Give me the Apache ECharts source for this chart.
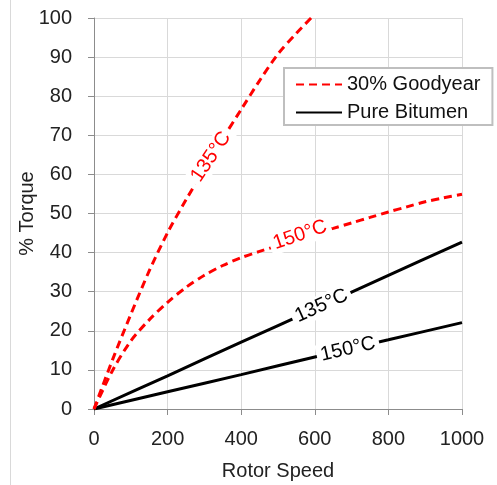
<!DOCTYPE html>
<html>
<head>
<meta charset="utf-8">
<script src="https://cdn.jsdelivr.net/npm/echarts@6/dist/echarts.min.js"></script>
<style>html,body{margin:0;padding:0;background:#fff}#c{width:497px;height:485px}</style>
</head>
<body>
<div id="c"></div>
<script>
var xTicks = [0, 200, 400, 600, 800, 1000];
var yTicks = [0, 10, 20, 30, 40, 50, 60, 70, 80, 90, 100];

var goodyear135X = [0, 50, 100, 150, 200, 250, 300, 350, 400, 450, 500, 550, 590];
var goodyear135Y = [0, 12.5, 24.2, 35.3, 45.1, 53.5, 61.4, 69.2, 76.6, 84.0, 90.8, 96.1, 100];

var goodyear150X = [0, 50, 100, 150, 200, 250, 300, 350, 400, 450, 500, 550, 600, 650, 700, 750, 800, 850, 900, 950, 1000];
var goodyear150Y = [0, 9.8, 17.4, 22.8, 27.3, 31.1, 34.2, 36.7, 38.7, 40.3, 41.8, 43.3, 44.8, 46.2, 47.6, 49.0, 50.4, 51.7, 53.0, 54.0, 54.9];

var bitumen135X = [0, 200, 400, 600, 800, 1000];
var bitumen135Y = [0, 8.5, 17.1, 25.6, 34.2, 42.7];

var bitumen150X = [0, 200, 400, 600, 800, 1000];
var bitumen150Y = [0, 4.4, 8.8, 13.3, 17.7, 22.1];

var legendNames = ['30% Goodyear', 'Pure Bitumen'];
var curveLabels = ['135°C', '150°C'];

function pairs(xs, ys) { return xs.map(function (x, i) { return [x, ys[i]]; }); }

var FONT = '"Liberation Sans", Arial, sans-serif';
var FS = 20;
var labelStyle = function (color, rot) {
  return {
    show: true, position: 'inside', formatter: '{b}', color: color,
    fontFamily: FONT, fontSize: FS, rotate: rot,
    backgroundColor: '#fff', padding: [1, 4]
  };
};

var chart = echarts.init(document.getElementById('c'));
chart.setOption({
  animation: false,
  backgroundColor: '#fff',
  grid: { left: 94, right: 35, top: 18, bottom: 76, containLabel: false, outerBoundsMode: 'none' },
  xAxis: {
    type: 'value', min: 0, max: 1000, interval: 200,
    name: 'Rotor Speed', nameLocation: 'middle', nameGap: 52, nameMoveOverlap: false,
    nameTextStyle: { fontFamily: FONT, fontSize: FS, color: '#222' },
    axisLine: { show: true, lineStyle: { color: '#8c8c8c', width: 1 } },
    axisTick: { show: true, length: 6, lineStyle: { color: '#8c8c8c' } },
    axisLabel: { fontFamily: FONT, fontSize: FS, color: '#222', margin: 20,
      formatter: function (v) { return String(v); } },
    splitLine: { show: true, lineStyle: { color: '#d9d9d9', width: 1 } }
  },
  yAxis: {
    type: 'value', min: 0, max: 100, interval: 10,
    name: '% Torque', nameLocation: 'middle', nameGap: 57, nameRotate: 90, nameMoveOverlap: false,
    nameTextStyle: { fontFamily: FONT, fontSize: FS, color: '#222' },
    axisLine: { show: true, lineStyle: { color: '#8c8c8c', width: 1 } },
    axisTick: { show: true, length: 6, lineStyle: { color: '#8c8c8c' } },
    axisLabel: { fontFamily: FONT, fontSize: FS, color: '#222', margin: 22,
      formatter: function (v) { return String(v); } },
    splitLine: { show: true, lineStyle: { color: '#d9d9d9', width: 1 } }
  },
  legend: {
    orient: 'vertical', left: 284, top: 68,
    data: legendNames,
    backgroundColor: '#fff', borderColor: '#bfbfbf', borderWidth: 2,
    padding: [5, 12, 1, 11], itemGap: 5, itemWidth: 46, itemHeight: 14,
    itemStyle: { opacity: 0 },
    textStyle: { fontFamily: FONT, fontSize: FS, color: '#111', lineHeight: 23 }
  },
  graphic: [{
    type: 'line', shape: { x1: 10.5, y1: 0, x2: 10.5, y2: 485 },
    style: { stroke: '#d9d9d9', lineWidth: 1 }, silent: true
  }],
  series: [
    {
      name: legendNames[0], type: 'line', smooth: 0.3, symbol: 'none',
      lineStyle: { color: '#ff0000', width: 3, type: [8, 5] }, itemStyle: { color: '#ff0000' },
      data: pairs(goodyear135X, goodyear135Y), z: 3,
      markPoint: { symbol: 'circle', symbolSize: 0, silent: true,
        data: [{ name: curveLabels[0], coord: [318, 64.5], label: labelStyle('#ff0000', 56) }] }
    },
    {
      name: legendNames[0], type: 'line', smooth: 0.3, symbol: 'none',
      lineStyle: { color: '#ff0000', width: 3, type: [8, 5] }, itemStyle: { color: '#ff0000' },
      data: pairs(goodyear150X, goodyear150Y), z: 3,
      markPoint: { symbol: 'circle', symbolSize: 0, silent: true,
        data: [{ name: curveLabels[1], coord: [560, 44.5], label: labelStyle('#ff0000', 19) }] }
    },
    {
      name: legendNames[1], type: 'line', smooth: 0.3, symbol: 'none',
      lineStyle: { color: '#000', width: 3 }, itemStyle: { color: '#000' },
      data: pairs(bitumen135X, bitumen135Y), z: 2,
      markPoint: { symbol: 'circle', symbolSize: 0, silent: true,
        data: [{ name: curveLabels[0], coord: [618, 26.4], label: labelStyle('#000', 24) }] }
    },
    {
      name: legendNames[1], type: 'line', smooth: 0.3, symbol: 'none',
      lineStyle: { color: '#000', width: 3 }, itemStyle: { color: '#000' },
      data: pairs(bitumen150X, bitumen150Y), z: 2,
      markPoint: { symbol: 'circle', symbolSize: 0, silent: true,
        data: [{ name: curveLabels[1], coord: [690, 15.3], label: labelStyle('#000', 13) }] }
    }
  ]
});
</script>
</body>
</html>
